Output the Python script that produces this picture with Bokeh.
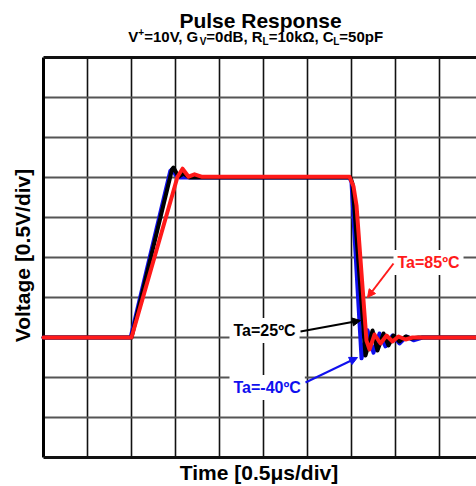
import math
from bokeh.plotting import figure
from bokeh.models import Range1d, Label, Arrow, NormalHead
from bokeh.embed import file_html
from bokeh.resources import INLINE

# ---------------- data (time in µs, voltage in V) ----------------
t_m40 = [0.0, 0.99, 1.44, 1.47, 1.50, 1.55, 3.477, 3.50, 3.614, 3.682, 3.75, 3.818, 3.886, 3.966, 4.045, 4.125, 4.205, 4.307, 4.92]
v_m40 = [0.0, 0.0, 2.08, 2.11, 2.03, 2.00, 2.00, 1.94, -0.26, 0.09, -0.19, 0.05, -0.11, 0.025, -0.075, 0.0125, -0.035, 0.0, 0.0]

t_25 = [0.0, 1.0, 1.46, 1.477, 1.534, 1.59, 1.66, 3.489, 3.511, 3.659, 3.739, 3.795, 3.864, 3.92, 3.977, 4.045, 4.114, 4.182, 4.26, 4.92]
v_25 = [0.0, 0.0, 2.10, 2.125, 2.01, 2.05, 2.00, 2.00, 1.925, -0.225, 0.0875, -0.1625, 0.05, -0.10, 0.025, -0.05, 0.0125, -0.0125, 0.0, 0.0]

t_85 = [0.0, 1.0, 1.523, 1.58, 1.648, 1.716, 1.795, 3.477, 3.523, 3.557, 3.67, 3.705, 3.761, 3.83, 3.898, 3.966, 4.034, 4.114, 4.193, 4.92]
v_85 = [0.0, 0.0, 2.01, 2.11, 2.01, 2.04, 2.01, 2.01, 1.8875, 1.65, -0.04, -0.15, 0.0375, -0.075, 0.025, -0.05, 0.0125, -0.025, 0.0, 0.0]

x_grid_ticks = [0.5, 1.0, 1.5, 2.0, 2.5, 3.0, 3.5, 4.0, 4.5]
y_grid_ticks = [-1.0, -0.5, 0.0, 0.5, 1.0, 1.5, 2.0, 2.5, 3.0]
x_span = (0.0, 4.92)      # visible time span of the grid (µs)
y_span = (-1.5, 3.5)      # voltage span of the grid (V)

title_text = "Pulse Response"
x_label_text = "Time [0.5μs/div]"
y_label_text = "Voltage [0.5V/div]"
series_labels = ["Ta=-40ºC", "Ta=25ºC", "Ta=85ºC"]
series_colors = ["#1010ee", "#000000", "#ff1a1a"]
subtitle_pieces = [("V", "m"), ("+", "sup"), ("=10V, G", "m"), ("V", "sub"),
                   ("=0dB, R", "m"), ("L", "sub"), ("=10kΩ, C", "m"), ("L", "sub"),
                   ("=50pF", "m")]

FONT = "Liberation Sans"
W_PX, H_PX = 476, 486


# canvas pixel -> data (grid: left edge x=43, 88 px/µs; 0 V at y=337, 80 px/V)
def tx(px):
    return (px - 43) / 88.0


def vy(py):
    return (337 - py) / 80.0


# ---------------- figure (frame = whole canvas) ----------------
p = figure(width=W_PX, height=H_PX, output_backend="svg", toolbar_location=None,
           x_range=Range1d(tx(0), tx(W_PX)), y_range=Range1d(vy(H_PX), vy(0)),
           min_border=0, title=None)
p.xaxis.visible = False
p.yaxis.visible = False
p.xgrid.visible = False
p.ygrid.visible = False
p.outline_line_color = None
p.background_fill_color = "white"
p.border_fill_color = "white"

# grid lines (drawn from the tick lists, limited to the grid area)
n_x, n_y = len(x_grid_ticks), len(y_grid_ticks)
p.segment(x0=x_grid_ticks, y0=[y_span[0]] * n_x, x1=x_grid_ticks, y1=[y_span[1]] * n_x,
          line_color="#111111", line_width=1.6)
p.segment(x0=[x_span[0]] * n_y, y0=y_grid_ticks, x1=[x_span[1]] * n_y, y1=y_grid_ticks,
          line_color="#555555", line_width=2)
# frame borders (left, top, bottom)
p.segment(x0=[x_span[0]], y0=[y_span[0]], x1=[x_span[0]], y1=[y_span[1]],
          line_color="black", line_width=3)
p.segment(x0=[x_span[0]] * 2, y0=list(y_span), x1=[x_span[1]] * 2, y1=list(y_span),
          line_color="#111111", line_width=3)

# curves
for t, v, c in [(t_m40, v_m40, series_colors[0]), (t_25, v_25, series_colors[1]),
                (t_85, v_85, series_colors[2])]:
    p.line(t, v, line_color=c, line_width=4, line_join="round", line_cap="round")

# annotations (text with white background) and arrows
PAD = 4
ann = [
    # label, color, text-left px, text-center py, arrow start, arrow end
    (series_labels[2], series_colors[2], 397, 262, (393, 263), (367, 297)),
    (series_labels[1], series_colors[1], 233, 330, (300, 331), (360, 320)),
    (series_labels[0], series_colors[0], 233, 387, (305, 382), (357, 357)),
]
for text, col, lx, ly, a0, a1 in ann:
    p.add_layout(Label(x=tx(lx - PAD), y=vy(ly), text=text, text_color=col, text_font=FONT,
                       text_font_style="bold", text_font_size="16px", text_align="left",
                       text_baseline="middle", background_fill_color="white",
                       background_fill_alpha=1.0, padding=PAD))
    p.add_layout(Arrow(x_start=tx(a0[0]), y_start=vy(a0[1]), x_end=tx(a1[0]), y_end=vy(a1[1]),
                       line_color=col, line_width=2,
                       end=NormalHead(size=8, fill_color=col, line_color=col)))

# title
p.add_layout(Label(x=tx(260), y=vy(20), text=title_text, text_font=FONT, text_font_style="bold",
                   text_font_size="21px", text_align="center", text_baseline="middle",
                   text_color="black"))

# subtitle with sub/superscripts
W = {'V': 667, '+': 584, '=': 584, '1': 556, '0': 556, ',': 278, ' ': 278, 'G': 778, 'd': 611,
     'B': 722, 'R': 722, 'k': 556, 'Ω': 768, 'C': 722, 'L': 611, '5': 556, 'p': 611, 'F': 611}
sizes = {"m": 15, "sub": 10, "sup": 10}
mid = {"m": 35.5, "sub": 40.5, "sup": 31.5}


def piece_width(s, k):
    return sum(W.get(ch, 556) for ch in s) * sizes[k] / 1000.0


total = sum(piece_width(s, k) for s, k in subtitle_pieces)
cx = 255.2 - total / 2.0
for s, k in subtitle_pieces:
    p.add_layout(Label(x=tx(cx), y=vy(mid[k]), text=s, text_font=FONT, text_font_style="bold",
                       text_font_size=f"{sizes[k]}px", text_align="left", text_baseline="middle",
                       text_color="black"))
    cx += piece_width(s, k)

# axis labels
p.add_layout(Label(x=tx(258.5), y=vy(472), text=x_label_text, text_font=FONT, text_font_style="bold",
                   text_font_size="21px", text_align="center", text_baseline="middle",
                   text_color="black"))
p.add_layout(Label(x=tx(22), y=vy(255), text=y_label_text, text_font=FONT, text_font_style="bold",
                   text_font_size="21px", text_align="center", text_baseline="middle",
                   angle=math.pi / 2, text_color="black"))

open("out.html", "w").write(file_html(p, INLINE))
